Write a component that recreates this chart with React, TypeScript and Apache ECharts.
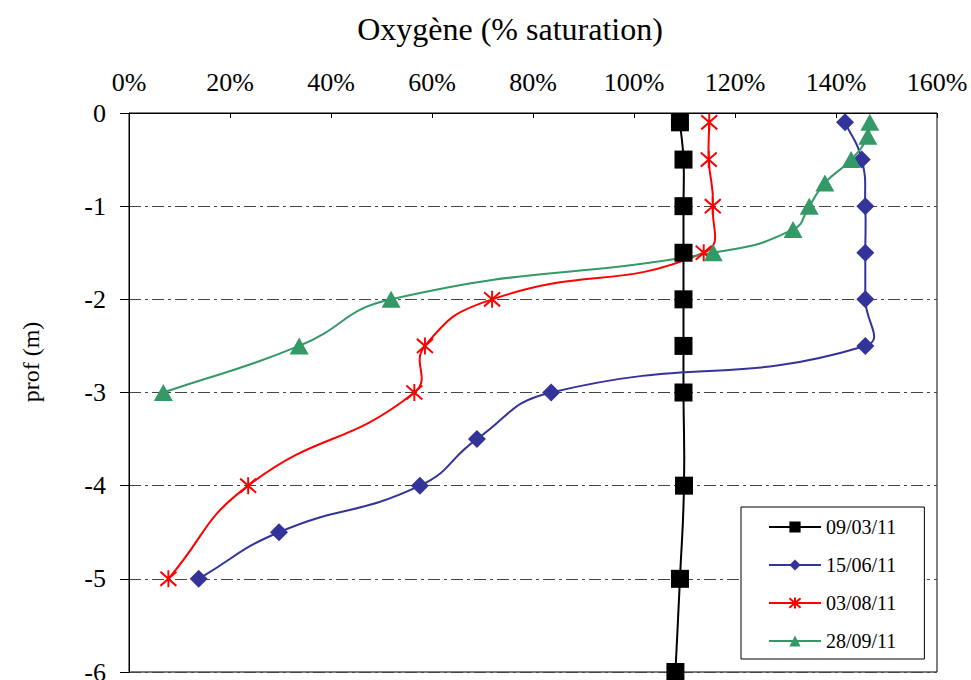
import React, { useEffect, useRef } from "react";
import * as echarts from "echarts";

const seriesNames = ["09/03/11", "15/06/11", "03/08/11", "28/09/11"];
const seriesColors = ["#000000", "#333399", "#ff0000", "#339966"];

const depths0903 = [-0.1, -0.5, -1, -1.5, -2, -2.5, -3, -4, -5, -6];
const oxy0903 = [109.1, 109.8, 109.8, 109.8, 109.8, 109.8, 109.8, 109.9, 109.1, 108.2];

const depths1506 = [-0.1, -0.5, -1, -1.5, -2, -2.5, -3, -3.5, -4, -4.5, -5];
const oxy1506 = [141.8, 145.1, 145.8, 145.8, 145.8, 145.8, 83.6, 68.9, 57.6, 29.7, 13.8];

const depths0308 = [-0.1, -0.5, -1, -1.5, -2, -2.5, -3, -4, -5];
const oxy0308 = [114.9, 114.8, 115.6, 113.8, 71.9, 58.6, 56.5, 23.6, 7.8];

const depths2809 = [-0.1, -0.25, -0.5, -0.75, -1, -1.25, -1.5, -2, -2.5, -3];
const oxy2809 = [146.7, 146.3, 143.0, 137.8, 134.7, 131.5, 115.7, 51.9, 33.7, 6.8];

const xTicks = [0, 20, 40, 60, 80, 100, 120, 140, 160];
const yTicks = [0, -1, -2, -3, -4, -5, -6];

const FONT = "Liberation Serif";
const SMOOTH = 0.5;

function pairs(xs: number[], ys: number[]) {
  return xs.map((x, i) => [x, ys[i]]);
}

// Smoothed segment (Excel-like, no control-point clamping) drawn through the axes' scales.
function smoothSegment(data: number[][], color: string) {
  return (params: any, api: any) => {
    const i = params.dataIndex;
    const n = data.length;
    if (i >= n - 1) return { type: "group", children: [] };
    const P = data.map((d) => api.coord(d));
    const tangentCp = (k: number) => {
      const prev = P[Math.max(k - 1, 0)];
      const next = P[Math.min(k + 1, n - 1)];
      const cur = P[k];
      const dx = next[0] - prev[0];
      const dy = next[1] - prev[1];
      const lp = Math.hypot(cur[0] - prev[0], cur[1] - prev[1]);
      const ln = Math.hypot(next[0] - cur[0], next[1] - cur[1]);
      const r = lp + ln > 0 ? ln / (lp + ln) : 0.5;
      return {
        out: [cur[0] + dx * SMOOTH * r, cur[1] + dy * SMOOTH * r],
        inn: [cur[0] - dx * SMOOTH * (1 - r), cur[1] - dy * SMOOTH * (1 - r)],
      };
    };
    const a = P[i];
    const b = P[i + 1];
    const c1 = tangentCp(i).out;
    const c2 = tangentCp(i + 1).inn;
    return {
      type: "bezierCurve",
      shape: {
        x1: a[0], y1: a[1],
        cpx1: c1[0], cpy1: c1[1],
        cpx2: c2[0], cpy2: c2[1],
        x2: b[0], y2: b[1],
      },
      style: { stroke: color, lineWidth: 2, fill: "none" },
      silent: true,
    };
  };
}

export default function App() {
  const ref = useRef<HTMLDivElement>(null);
  useEffect(() => {
    if (!ref.current) return;
    const chart = echarts.init(ref.current, undefined, { renderer: "svg" });
    const sets = [
      { x: oxy0903, y: depths0903, symbol: "rect", size: [18, 18] },
      { x: oxy1506, y: depths1506, symbol: "diamond", size: [18, 18] },
      { x: oxy0308, y: depths0308, symbol: "path://M0,0L10,10M10,0L0,10M5,-1L5,11", size: [16, 17] },
      { x: oxy2809, y: depths2809, symbol: "triangle", size: [19, 17] },
    ];
    const series: any[] = [];
    sets.forEach((s, k) => {
      const data = pairs(s.x, s.y);
      series.push({
        type: "custom",
        name: seriesNames[k] + " courbe",
        data,
        encode: { x: 0, y: 1 },
        renderItem: smoothSegment(data, seriesColors[k]),
        silent: true,
        z: 2 + k * 0.1,
      });
      series.push({
        type: "line",
        name: seriesNames[k],
        data,
        symbol: s.symbol,
        symbolSize: s.size,
        showAllSymbol: true,
        silent: true,
        emphasis: { disabled: true },
        lineStyle: { color: seriesColors[k], width: 2, opacity: 0 },
        itemStyle:
          k === 2
            ? { color: seriesColors[k], borderColor: seriesColors[k], borderWidth: 2 }
            : { color: seriesColors[k] },
        z: 3 + k * 0.1,
      });
    });
    chart.setOption({
      animation: false,
      backgroundColor: "#fff",
      textStyle: { fontFamily: FONT },
      grid: {
        left: 129,
        top: 113,
        width: 808,
        height: 559,
        outerBoundsMode: "none",
        containLabel: false,
        show: true,
        borderColor: "#000",
        borderWidth: 1,
        backgroundColor: "transparent",
      },
      xAxis: {
        type: "value",
        position: "top",
        min: xTicks[0],
        max: xTicks[xTicks.length - 1],
        interval: 20,
        axisLine: { show: true, lineStyle: { color: "#000", width: 1 } },
        axisTick: { show: true, inside: true, length: 5, lineStyle: { color: "#000" } },
        axisLabel: {
          margin: 18,
          formatter: "{value}%",
          color: "#000",
          fontFamily: FONT,
          fontSize: 26,
        },
        splitLine: { show: false },
      },
      yAxis: {
        type: "value",
        min: yTicks[yTicks.length - 1],
        max: yTicks[0],
        interval: 1,
        axisLine: { show: true, lineStyle: { color: "#000", width: 1 } },
        axisTick: { show: true, inside: false, length: 9, lineStyle: { color: "#000" } },
        axisLabel: {
          margin: 23,
          color: "#000",
          fontFamily: FONT,
          fontSize: 26,
        },
        splitLine: {
          show: true,
          lineStyle: { color: "#444", width: 1, type: [12, 4, 3, 4] },
        },
      },
      legend: {
        orient: "vertical",
        left: 741,
        top: 507,
        data: seriesNames,
        itemWidth: 52,
        itemHeight: 14,
        itemGap: 18,
        padding: [10, 28, 8, 27],
        borderColor: "#000",
        borderWidth: 1,
        borderRadius: 0,
        backgroundColor: "#fff",
        selectedMode: false,
        lineStyle: { opacity: 1, width: 2 },
        textStyle: { fontFamily: FONT, fontSize: 20, color: "#000" },
        z: 10,
      },
      graphic: [
        {
          type: "text",
          x: 510,
          y: 29,
          style: {
            text: "Oxygène (% saturation)",
            fontFamily: FONT,
            fontSize: 32,
            fill: "#000",
            textAlign: "center",
            textVerticalAlign: "middle",
          },
        },
        {
          type: "text",
          x: 31,
          y: 362,
          rotation: Math.PI / 2,
          style: {
            text: "prof (m)",
            fontFamily: FONT,
            fontSize: 24,
            fill: "#000",
            textAlign: "center",
            textVerticalAlign: "middle",
          },
        },
      ],
      series,
    });
    return () => chart.dispose();
  }, []);
  return (
    <div
      ref={ref}
      style={{ position: "fixed", left: 0, top: 0, width: 971, height: 680, background: "#fff" }}
    />
  );
}
